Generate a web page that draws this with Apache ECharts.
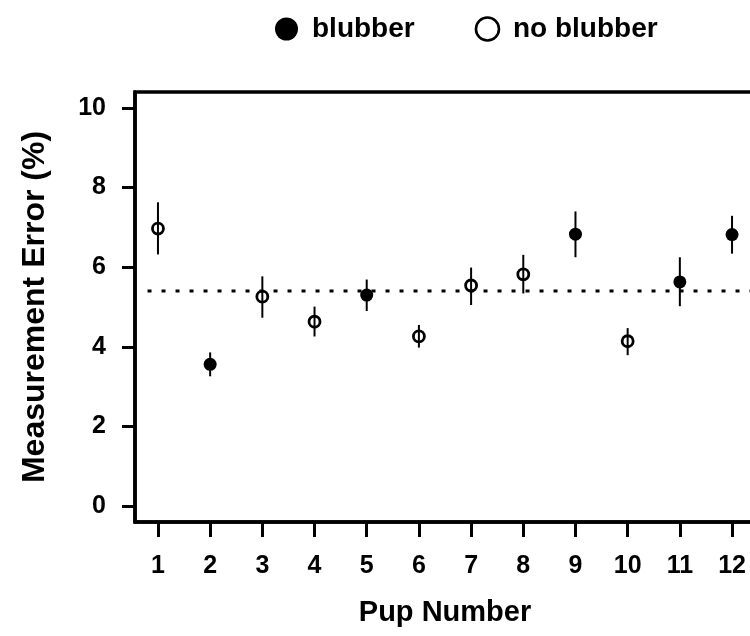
<!DOCTYPE html>
<html>
<head>
<meta charset="utf-8">
<script src="https://cdn.jsdelivr.net/npm/echarts@6/dist/echarts.min.js"></script>
<style>
  html, body { margin: 0; padding: 0; background: #fff; }
  #main { width: 750px; height: 636px; }
</style>
</head>
<body>
<div id="main"></div>
<script>
// values
var pups = [1, 2, 3, 4, 5, 6, 7, 8, 9, 10, 11, 12];
var means = [6.97, 3.56, 5.26, 4.63, 5.30, 4.26, 5.54, 5.82, 6.83, 4.14, 5.63, 6.82];
var upper = [7.63, 3.86, 5.77, 5.01, 5.69, 4.55, 5.99, 6.31, 7.40, 4.47, 6.25, 7.29];
var lower = [6.32, 3.26, 4.73, 4.26, 4.90, 3.98, 5.05, 5.34, 6.25, 3.79, 5.02, 6.34];
var hasBlubber = [false, true, false, false, true, false, false, false, true, false, true, true];
var refLevel = 5.4;
var refFrom = 0.8, refTo = 12.44;
var xTicks = [1, 2, 3, 4, 5, 6, 7, 8, 9, 10, 11, 12];
var yTicks = [0, 2, 4, 6, 8, 10];

var FONT = 'Liberation Sans, Arial, Helvetica, sans-serif';

var filled = [], open = [], bars = [];
for (var i = 0; i < pups.length; i++) {
  if (hasBlubber[i]) filled.push([pups[i], means[i]]);
  else open.push([pups[i], means[i]]);
  bars.push([pups[i], lower[i], upper[i]]);
}

var chart = echarts.init(document.getElementById('main'));

var option = {
  animation: false,
  legend: {
    data: [
      { name: 'blubber' },
      { name: 'no blubber', itemStyle: { borderWidth: 2.6, borderColor: '#000', color: '#fff' } }
    ],
    left: 270,
    top: 10,
    itemWidth: 23,
    itemHeight: 23,
    itemGap: 60,
    textStyle: { fontFamily: FONT, fontSize: 28, fontWeight: 'bold', color: '#000', padding: [0, 0, 0, 9] }
  },
  grid: {
    left: 135, top: 92, width: 620, height: 430,
    outerBoundsMode: 'none',
    show: true, borderColor: '#000', borderWidth: 3.5, backgroundColor: 'transparent'
  },
  xAxis: {
    type: 'value',
    min: 0.56,
    max: 12.44,
    name: 'Pup Number',
    nameLocation: 'middle',
    nameGap: 76,
    nameTextStyle: { fontFamily: FONT, fontSize: 29, fontWeight: 'bold', color: '#000' },
    splitLine: { show: false },
    axisLine: { show: true, onZero: false, lineStyle: { color: '#000', width: 3.5 } },
    axisTick: { show: true, length: 15, customValues: xTicks, lineStyle: { color: '#000', width: 3 } },
    axisLabel: { customValues: xTicks, margin: 32, fontFamily: FONT, fontSize: 25, fontWeight: 'bold', color: '#000' }
  },
  yAxis: {
    type: 'value',
    min: -0.4,
    max: 10.4,
    name: 'Measurement Error (%)',
    nameLocation: 'middle',
    nameGap: 84,
    nameTextStyle: { fontFamily: FONT, fontSize: 32, fontWeight: 'bold', color: '#000' },
    splitLine: { show: false },
    axisLine: { show: true, onZero: false, lineStyle: { color: '#000', width: 3.5 } },
    axisTick: { show: true, length: 13, customValues: yTicks, lineStyle: { color: '#000', width: 3 } },
    axisLabel: { customValues: yTicks, margin: 29, fontFamily: FONT, fontSize: 25, fontWeight: 'bold', color: '#000' }
  },
  series: [
    {
      name: 'reference',
      type: 'line',
      data: [[refFrom, refLevel], [refTo, refLevel]],
      symbol: 'none',
      lineStyle: { color: '#000', width: 3, type: [4, 10] },
      z: 1
    },
    {
      name: 'error',
      type: 'custom',
      data: bars,
      encode: { x: 0, y: [1, 2] },
      renderItem: function (params, api) {
        var x = api.value(0);
        var p1 = api.coord([x, api.value(1)]);
        var p2 = api.coord([x, api.value(2)]);
        return {
          type: 'line',
          shape: { x1: p1[0], y1: p1[1], x2: p2[0], y2: p2[1] },
          style: { stroke: '#000', lineWidth: 2 }
        };
      },
      z: 2
    },
    {
      name: 'blubber',
      type: 'scatter',
      data: filled,
      symbol: 'circle',
      symbolSize: 13,
      itemStyle: { color: '#000', opacity: 1 },
      z: 3
    },
    {
      name: 'no blubber',
      type: 'scatter',
      data: open,
      symbol: 'circle',
      symbolSize: 11,
      itemStyle: { color: 'rgba(255,255,255,0)', borderColor: '#000', borderWidth: 2.8, opacity: 1 },
      z: 3
    }
  ]
};

chart.setOption(option);
</script>
</body>
</html>
